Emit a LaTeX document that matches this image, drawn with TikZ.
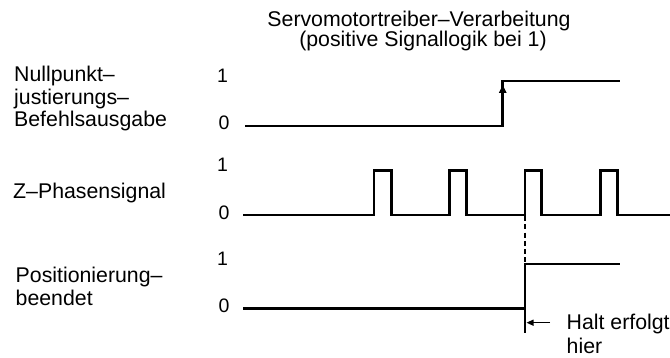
\documentclass[tikz,border=0pt]{standalone}
\usepackage{fontspec}
\setmainfont{Liberation Sans}
\usetikzlibrary{arrows.meta}
\begin{document}
\begin{tikzpicture}[x=1pt,y=-1pt,
  lbl/.style={inner sep=0pt,anchor=base west,font=\fontsize{21.3}{22}\selectfont},
  ttl/.style={inner sep=0pt,anchor=base,font=\fontsize{21.3}{22}\selectfont},
  lvl/.style={inner sep=0pt,anchor=base,font=\fontsize{19.5}{20}\selectfont},
  sig/.style={line width=2.7pt,line join=miter},
  thin/.style={line width=1.3pt},
  tip/.style={-{Triangle[length=7pt,width=6pt]}},
  uptip/.style={-{Triangle[length=8pt,width=7.5pt]}}]
\useasboundingbox (0,0) rectangle (670,358);
% title
\node[ttl] (t1) at (419,26.5) {Servomotortreiber–Verarbeitung};
\node[ttl] (t2) at (423,47) {(positive Signallogik bei 1)};
% left labels
\node[lbl] (a1) at (14,82) {Nullpunkt–};
\node[lbl] (a2) at (14,104.5) {justierungs–};
\node[lbl] (a3) at (14,127) {Befehlsausgabe};
\node[lbl] (b1) at (13,199) {Z–Phasensignal};
\node[lbl] (c1) at (15.5,283) {Positionierung–};
\node[lbl] (c2) at (15.5,305.5) {beendet};
% level labels
\node[lvl] (h1) at (222.5,82.5) {1};
\node[lvl] (l1) at (224,130) {0};
\node[lvl] (h2) at (222.5,172) {1};
\node[lvl] (l2) at (224,220) {0};
\node[lvl] (h3) at (222.5,265.5) {1};
\node[lvl] (l3) at (224,313) {0};
% signal 1
\draw[sig] (245,126) -- (502.7,126) -- (502.7,81) -- (620,81);
\coordinate (ar0) at (502.7,100);
\coordinate (ar1) at (502.7,85);
\draw[thin,uptip] (ar0) -- (ar1);
% Z phase
\draw[sig] (243,215) -- (374,215) -- (374,170.7) -- (391.5,170.7) -- (391.5,215)
  -- (449.4,215) -- (449.4,170.7) -- (466.8,170.7) -- (466.8,215)
  -- (525,215) -- (525,170.7) -- (541.7,170.7) -- (541.7,215)
  -- (600.7,215) -- (600.7,170.7) -- (617.3,170.7) -- (617.3,215) -- (670,215);
% positioning
\draw[sig] (243,308.3) -- (525,308.3) -- (525,264) -- (620,264);
% dashed
\coordinate (d0) at (525,216);
\coordinate (d1) at (525,264);
\draw[thin,dash pattern=on 5pt off 3.3pt] (d0) -- (d1);
% halt marker
\coordinate (v0) at (525,308);
\coordinate (v1) at (525,333);
\draw[thin] (v0) -- (v1);
\coordinate (hs) at (550,322.7);
\coordinate (he) at (526.5,322.7);
\draw[thin,tip] (hs) -- (he);
\node[lbl] (hl1) at (566.5,330) {Halt erfolgt};
\node[lbl] (hl2) at (566.5,353) {hier};
\end{tikzpicture}
\end{document}
